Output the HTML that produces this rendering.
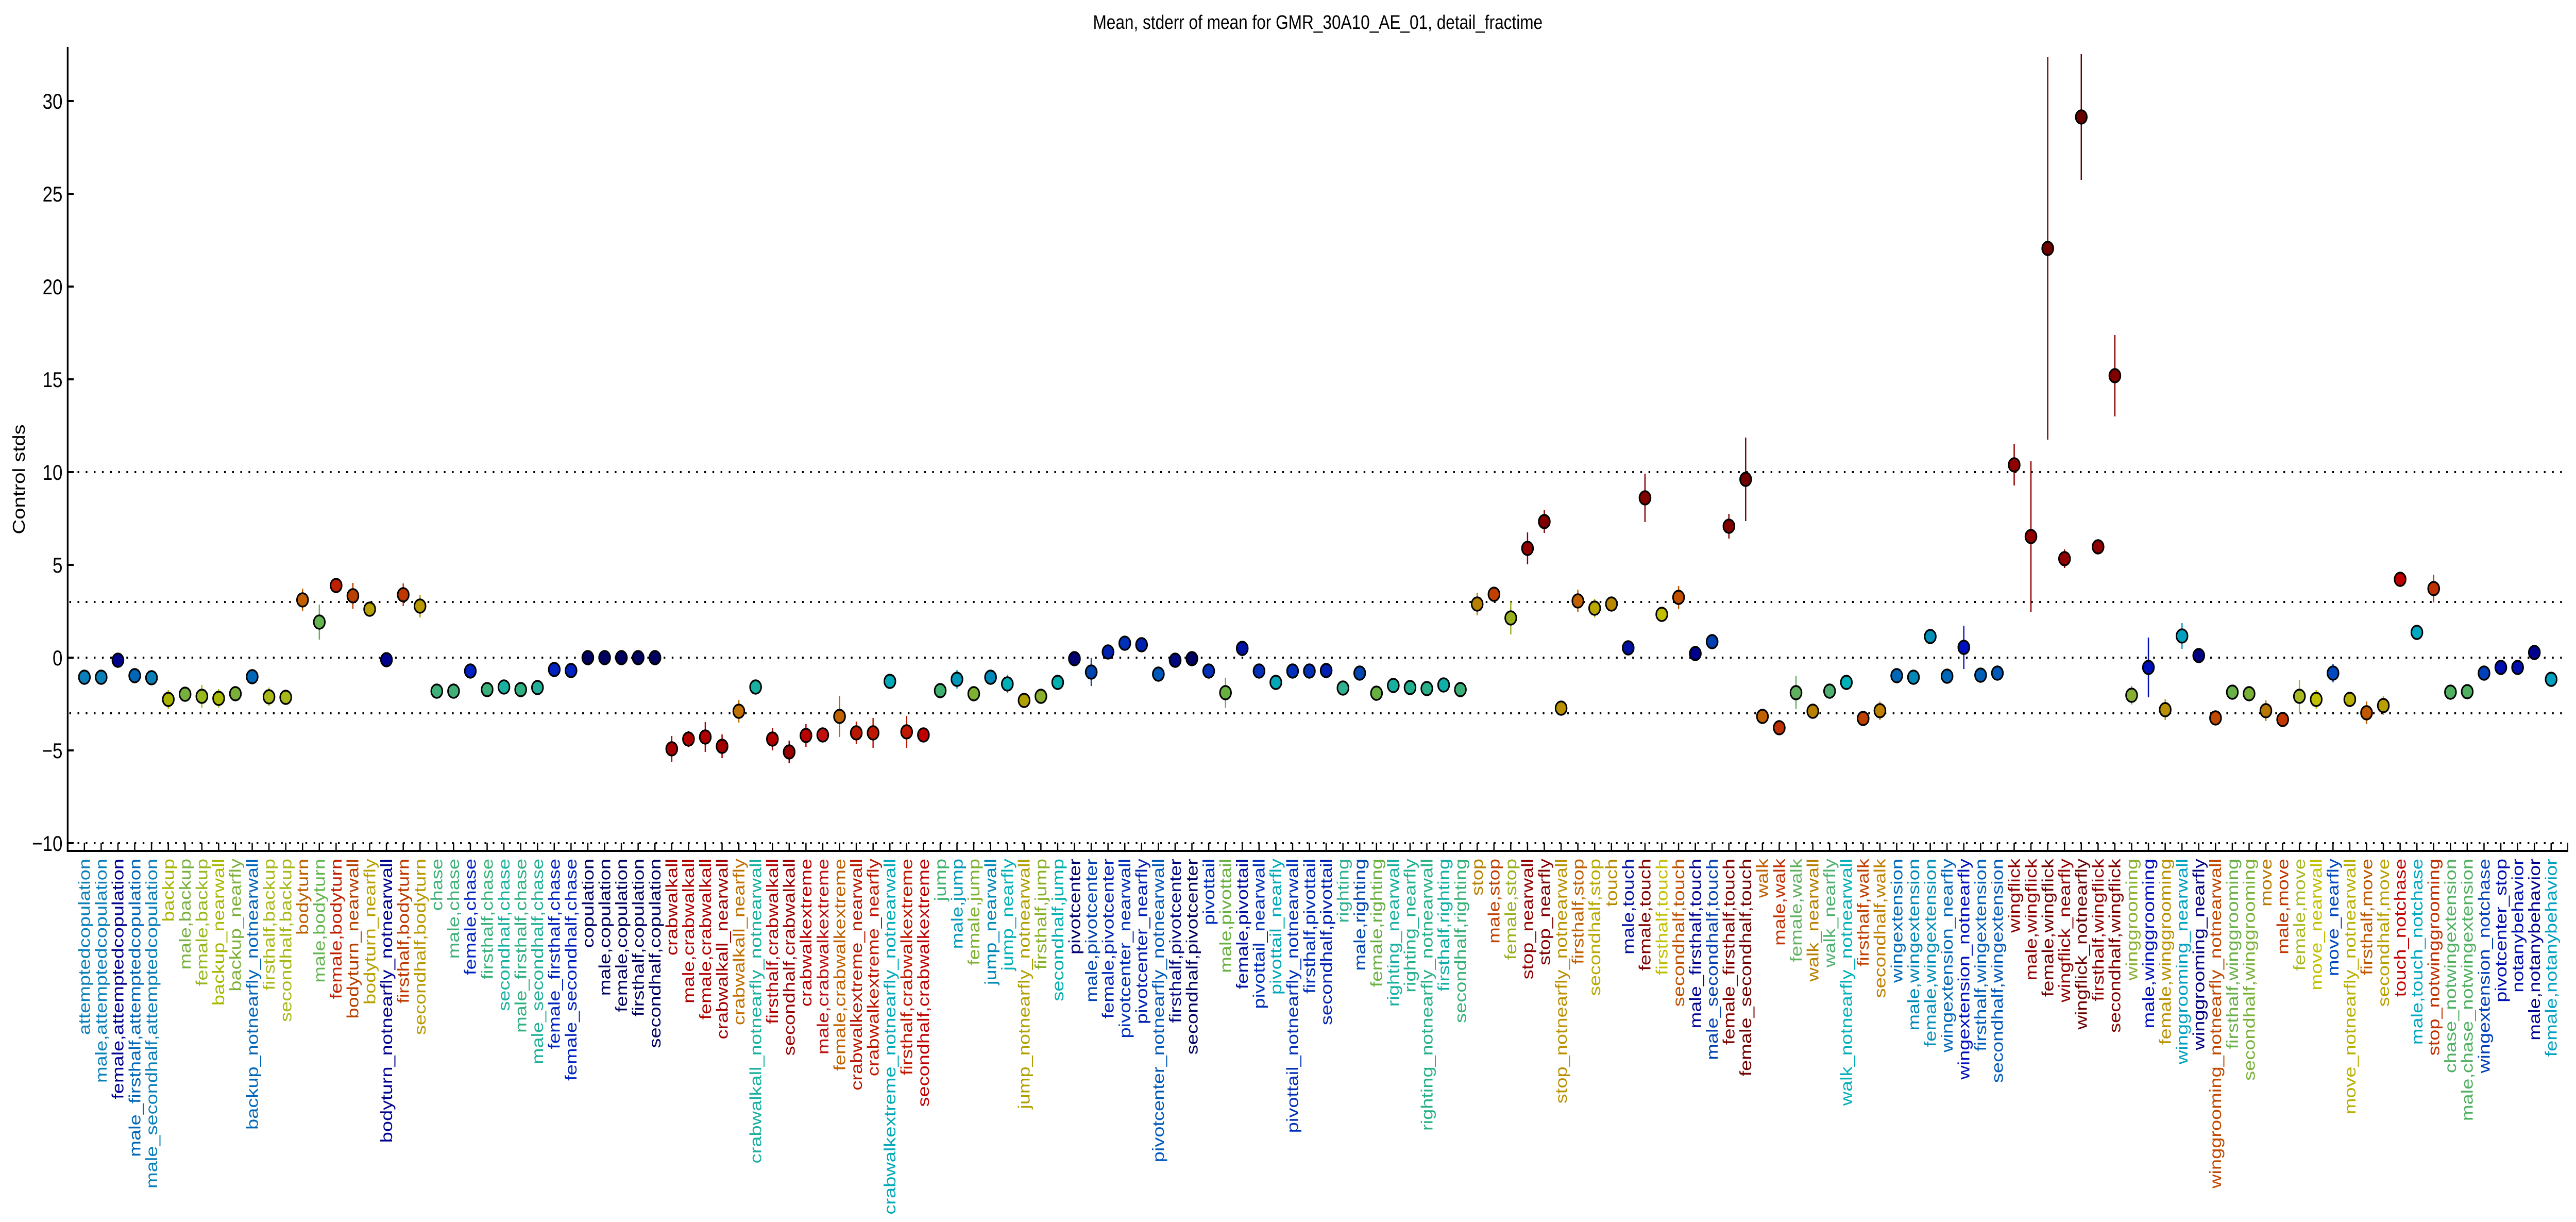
<!DOCTYPE html>
<html><head><meta charset="utf-8"><style>
html,body{margin:0;padding:0;background:#fff;overflow:hidden;width:100%;height:100%}
svg{display:block;width:100vw;height:100vh}
text{font-family:"Liberation Sans",Arial,sans-serif}
.l{font-size:38px;text-anchor:end}
</style></head><body>
<svg viewBox="0 0 6013 2371" preserveAspectRatio="none" xmlns="http://www.w3.org/2000/svg">
<rect width="6013" height="2371" fill="#fff"/>
<text x="3076" y="56" font-size="38" text-anchor="middle">Mean, stderr of mean for GMR_30A10_AE_01, detail_fractime</text>
<text transform="translate(58,930) rotate(-90)" font-size="40" text-anchor="middle">Control stds</text>
<g stroke="#000" stroke-width="4" stroke-dasharray="4 15">
<line x1="162" y1="916" x2="5994" y2="916"/>
<line x1="162" y1="1168" x2="5994" y2="1168"/>
<line x1="162" y1="1276" x2="5994" y2="1276"/>
<line x1="162" y1="1384" x2="5994" y2="1384"/>
<line x1="162" y1="1636" x2="5994" y2="1636"/>
</g>
<line x1="158" y1="91" x2="158" y2="1653" stroke="#000" stroke-width="4"/>
<line x1="156" y1="1651" x2="5995" y2="1651" stroke="#000" stroke-width="4"/>
<line x1="195.5" y1="1643" x2="5995" y2="1643" stroke="#000" stroke-width="16" stroke-dasharray="3 36.17"/>
<g stroke="#000" stroke-width="4">
<line x1="158" y1="196" x2="172" y2="196"/><line x1="158" y1="376" x2="172" y2="376"/><line x1="158" y1="556" x2="172" y2="556"/><line x1="158" y1="736" x2="172" y2="736"/><line x1="158" y1="916" x2="172" y2="916"/><line x1="158" y1="1096" x2="172" y2="1096"/><line x1="158" y1="1276" x2="172" y2="1276"/><line x1="158" y1="1456" x2="172" y2="1456"/><line x1="158" y1="1636" x2="172" y2="1636"/>
</g>
<g font-size="42" text-anchor="end">
<text x="146" y="211">30</text><text x="146" y="391">25</text><text x="146" y="571">20</text><text x="146" y="751">15</text><text x="146" y="931">10</text><text x="146" y="1111">5</text><text x="146" y="1291">0</text><text x="146" y="1471">−5</text><text x="146" y="1651">−10</text>
</g>
<g stroke-width="3">
<line x1="392.9" y1="1339" x2="392.9" y2="1375" stroke="#a8b400"/>
<line x1="471.2" y1="1329" x2="471.2" y2="1373" stroke="#98b820"/>
<line x1="510.4" y1="1337" x2="510.4" y2="1373" stroke="#a8b800"/>
<line x1="549.5" y1="1332" x2="549.5" y2="1360" stroke="#7ab038"/>
<line x1="627.9" y1="1334" x2="627.9" y2="1370" stroke="#a8b818"/>
<line x1="667.0" y1="1339" x2="667.0" y2="1367" stroke="#a8b818"/>
<line x1="706.2" y1="1142" x2="706.2" y2="1186" stroke="#c06000"/>
<line x1="745.4" y1="1173" x2="745.4" y2="1241" stroke="#66b450"/>
<line x1="823.7" y1="1131" x2="823.7" y2="1181" stroke="#b84000"/>
<line x1="941.2" y1="1132" x2="941.2" y2="1176" stroke="#c03800"/>
<line x1="980.4" y1="1154" x2="980.4" y2="1198" stroke="#b89800"/>
<line x1="1568.0" y1="1428" x2="1568.0" y2="1478" stroke="#a80000"/>
<line x1="1607.1" y1="1418" x2="1607.1" y2="1450" stroke="#b00000"/>
<line x1="1646.3" y1="1401" x2="1646.3" y2="1459" stroke="#b00000"/>
<line x1="1685.5" y1="1425" x2="1685.5" y2="1471" stroke="#a00000"/>
<line x1="1724.6" y1="1358" x2="1724.6" y2="1402" stroke="#c07000"/>
<line x1="1803.0" y1="1412" x2="1803.0" y2="1456" stroke="#b00000"/>
<line x1="1842.1" y1="1437" x2="1842.1" y2="1481" stroke="#980000"/>
<line x1="1881.3" y1="1405" x2="1881.3" y2="1449" stroke="#b80000"/>
<line x1="1959.7" y1="1350" x2="1959.7" y2="1430" stroke="#c06000"/>
<line x1="1998.8" y1="1400" x2="1998.8" y2="1444" stroke="#b81800"/>
<line x1="2038.0" y1="1393" x2="2038.0" y2="1451" stroke="#c01800"/>
<line x1="2116.3" y1="1389" x2="2116.3" y2="1451" stroke="#c01800"/>
<line x1="2155.5" y1="1412" x2="2155.5" y2="1440" stroke="#c00000"/>
<line x1="2233.8" y1="1300" x2="2233.8" y2="1336" stroke="#0098b8"/>
<line x1="2312.2" y1="1301" x2="2312.2" y2="1327" stroke="#0088b8"/>
<line x1="2351.4" y1="1309" x2="2351.4" y2="1345" stroke="#00b0b8"/>
<line x1="2547.2" y1="1277" x2="2547.2" y2="1331" stroke="#0044b0"/>
<line x1="2586.4" y1="1254" x2="2586.4" y2="1276" stroke="#0022b0"/>
<line x1="2860.6" y1="1315" x2="2860.6" y2="1373" stroke="#68b040"/>
<line x1="3448.1" y1="1150" x2="3448.1" y2="1194" stroke="#b88000"/>
<line x1="3526.5" y1="1167" x2="3526.5" y2="1231" stroke="#98b020"/>
<line x1="3565.6" y1="1033" x2="3565.6" y2="1095" stroke="#900000"/>
<line x1="3604.8" y1="990" x2="3604.8" y2="1034" stroke="#800000"/>
<line x1="3683.1" y1="1144" x2="3683.1" y2="1188" stroke="#c06000"/>
<line x1="3722.3" y1="1162" x2="3722.3" y2="1198" stroke="#b8a800"/>
<line x1="3839.8" y1="919" x2="3839.8" y2="1013" stroke="#800000"/>
<line x1="3918.2" y1="1137" x2="3918.2" y2="1181" stroke="#c05000"/>
<line x1="4035.7" y1="997" x2="4035.7" y2="1045" stroke="#800000"/>
<line x1="4074.8" y1="849" x2="4074.8" y2="1011" stroke="#700000"/>
<line x1="4114.0" y1="1376" x2="4114.0" y2="1404" stroke="#c06000"/>
<line x1="4192.3" y1="1312" x2="4192.3" y2="1376" stroke="#60b060"/>
<line x1="4231.5" y1="1366" x2="4231.5" y2="1394" stroke="#b88000"/>
<line x1="4349.0" y1="1381" x2="4349.0" y2="1407" stroke="#c04000"/>
<line x1="4388.2" y1="1361" x2="4388.2" y2="1397" stroke="#c08000"/>
<line x1="4584.0" y1="1214" x2="4584.0" y2="1298" stroke="#0010c0"/>
<line x1="4701.6" y1="862" x2="4701.6" y2="942" stroke="#900000"/>
<line x1="4740.7" y1="895" x2="4740.7" y2="1187" stroke="#900000"/>
<line x1="4779.9" y1="111" x2="4779.9" y2="853" stroke="#700000"/>
<line x1="4819.1" y1="1066" x2="4819.1" y2="1102" stroke="#900000"/>
<line x1="4858.2" y1="105" x2="4858.2" y2="349" stroke="#680000"/>
<line x1="4936.6" y1="650" x2="4936.6" y2="808" stroke="#800000"/>
<line x1="4975.7" y1="1331" x2="4975.7" y2="1367" stroke="#88b030"/>
<line x1="5014.9" y1="1237" x2="5014.9" y2="1353" stroke="#0010b8"/>
<line x1="5054.1" y1="1357" x2="5054.1" y2="1397" stroke="#b89000"/>
<line x1="5093.3" y1="1209" x2="5093.3" y2="1259" stroke="#00a0c0"/>
<line x1="5132.4" y1="1258" x2="5132.4" y2="1286" stroke="#000080"/>
<line x1="5210.8" y1="1329" x2="5210.8" y2="1357" stroke="#68b048"/>
<line x1="5249.9" y1="1332" x2="5249.9" y2="1360" stroke="#78b038"/>
<line x1="5289.1" y1="1359" x2="5289.1" y2="1399" stroke="#b87800"/>
<line x1="5367.4" y1="1319" x2="5367.4" y2="1383" stroke="#a8b820"/>
<line x1="5406.6" y1="1339" x2="5406.6" y2="1375" stroke="#c0c000"/>
<line x1="5445.8" y1="1288" x2="5445.8" y2="1324" stroke="#0048c0"/>
<line x1="5524.1" y1="1361" x2="5524.1" y2="1405" stroke="#c05800"/>
<line x1="5563.3" y1="1351" x2="5563.3" y2="1387" stroke="#b8a000"/>
<line x1="5602.5" y1="1111" x2="5602.5" y2="1137" stroke="#c00000"/>
<line x1="5680.8" y1="1115" x2="5680.8" y2="1169" stroke="#c03000"/>
<line x1="5955.0" y1="1304" x2="5955.0" y2="1332" stroke="#00a0c0"/>
</g>
<g stroke="#000" stroke-width="3.5">
<circle cx="197.0" cy="1314" r="13" fill="#0a7fb8"/>
<circle cx="236.2" cy="1314" r="13" fill="#0a7fb8"/>
<circle cx="275.3" cy="1281" r="13" fill="#00008f"/>
<circle cx="314.5" cy="1311" r="13" fill="#0066b8"/>
<circle cx="353.7" cy="1315" r="13" fill="#0a7fb8"/>
<circle cx="392.9" cy="1357" r="13" fill="#a8b400"/>
<circle cx="432.0" cy="1347" r="13" fill="#78b040"/>
<circle cx="471.2" cy="1351" r="13" fill="#98b820"/>
<circle cx="510.4" cy="1355" r="13" fill="#a8b800"/>
<circle cx="549.5" cy="1346" r="13" fill="#7ab038"/>
<circle cx="588.7" cy="1313" r="13" fill="#0066b8"/>
<circle cx="627.9" cy="1352" r="13" fill="#a8b818"/>
<circle cx="667.0" cy="1353" r="13" fill="#a8b818"/>
<circle cx="706.2" cy="1164" r="13" fill="#c06000"/>
<circle cx="745.4" cy="1207" r="13" fill="#66b450"/>
<circle cx="784.6" cy="1136" r="13" fill="#c02000"/>
<circle cx="823.7" cy="1156" r="13" fill="#b84000"/>
<circle cx="862.9" cy="1182" r="13" fill="#b8a000"/>
<circle cx="902.1" cy="1280" r="13" fill="#00008f"/>
<circle cx="941.2" cy="1154" r="13" fill="#c03800"/>
<circle cx="980.4" cy="1176" r="13" fill="#b89800"/>
<circle cx="1019.6" cy="1341" r="13" fill="#40b078"/>
<circle cx="1058.7" cy="1341" r="13" fill="#40b078"/>
<circle cx="1097.9" cy="1302" r="13" fill="#0022c0"/>
<circle cx="1137.1" cy="1338" r="13" fill="#38b07a"/>
<circle cx="1176.3" cy="1333" r="13" fill="#18b0a0"/>
<circle cx="1215.4" cy="1338" r="13" fill="#30b080"/>
<circle cx="1254.6" cy="1334" r="13" fill="#20b098"/>
<circle cx="1293.8" cy="1299" r="13" fill="#0022c0"/>
<circle cx="1332.9" cy="1301" r="13" fill="#0022c0"/>
<circle cx="1372.1" cy="1276" r="13" fill="#000060"/>
<circle cx="1411.3" cy="1276" r="13" fill="#000060"/>
<circle cx="1450.4" cy="1276" r="13" fill="#000060"/>
<circle cx="1489.6" cy="1276" r="13" fill="#000060"/>
<circle cx="1528.8" cy="1276" r="13" fill="#000060"/>
<circle cx="1568.0" cy="1453" r="13" fill="#a80000"/>
<circle cx="1607.1" cy="1434" r="13" fill="#b00000"/>
<circle cx="1646.3" cy="1430" r="13" fill="#b00000"/>
<circle cx="1685.5" cy="1448" r="13" fill="#a00000"/>
<circle cx="1724.6" cy="1380" r="13" fill="#c07000"/>
<circle cx="1763.8" cy="1333" r="13" fill="#18b0a0"/>
<circle cx="1803.0" cy="1434" r="13" fill="#b00000"/>
<circle cx="1842.1" cy="1459" r="13" fill="#980000"/>
<circle cx="1881.3" cy="1427" r="13" fill="#b80000"/>
<circle cx="1920.5" cy="1426" r="13" fill="#c01010"/>
<circle cx="1959.7" cy="1390" r="13" fill="#c06000"/>
<circle cx="1998.8" cy="1422" r="13" fill="#b81800"/>
<circle cx="2038.0" cy="1422" r="13" fill="#c01800"/>
<circle cx="2077.2" cy="1322" r="13" fill="#00a8b8"/>
<circle cx="2116.3" cy="1420" r="13" fill="#c01800"/>
<circle cx="2155.5" cy="1426" r="13" fill="#c00000"/>
<circle cx="2194.7" cy="1340" r="13" fill="#40b070"/>
<circle cx="2233.8" cy="1318" r="13" fill="#0098b8"/>
<circle cx="2273.0" cy="1346" r="13" fill="#80b030"/>
<circle cx="2312.2" cy="1314" r="13" fill="#0088b8"/>
<circle cx="2351.4" cy="1327" r="13" fill="#00b0b8"/>
<circle cx="2390.5" cy="1359" r="13" fill="#b0a000"/>
<circle cx="2429.7" cy="1351" r="13" fill="#88b028"/>
<circle cx="2468.9" cy="1324" r="13" fill="#00b0b0"/>
<circle cx="2508.0" cy="1278" r="13" fill="#000070"/>
<circle cx="2547.2" cy="1304" r="13" fill="#0044b0"/>
<circle cx="2586.4" cy="1265" r="13" fill="#0022b0"/>
<circle cx="2625.5" cy="1248" r="13" fill="#0030b8"/>
<circle cx="2664.7" cy="1251" r="13" fill="#0020b0"/>
<circle cx="2703.9" cy="1308" r="13" fill="#0058b8"/>
<circle cx="2743.1" cy="1281" r="13" fill="#000880"/>
<circle cx="2782.2" cy="1278" r="13" fill="#000060"/>
<circle cx="2821.4" cy="1302" r="13" fill="#0030b8"/>
<circle cx="2860.6" cy="1344" r="13" fill="#68b040"/>
<circle cx="2899.7" cy="1258" r="13" fill="#0010a0"/>
<circle cx="2938.9" cy="1302" r="13" fill="#0030b8"/>
<circle cx="2978.1" cy="1324" r="13" fill="#00a8b8"/>
<circle cx="3017.2" cy="1302" r="13" fill="#0030b8"/>
<circle cx="3056.4" cy="1302" r="13" fill="#0030b8"/>
<circle cx="3095.6" cy="1301" r="13" fill="#0020b0"/>
<circle cx="3134.8" cy="1335" r="13" fill="#30b090"/>
<circle cx="3173.9" cy="1306" r="13" fill="#0048b0"/>
<circle cx="3213.1" cy="1345" r="13" fill="#68b040"/>
<circle cx="3252.3" cy="1330" r="13" fill="#18b0a0"/>
<circle cx="3291.4" cy="1334" r="13" fill="#20b090"/>
<circle cx="3330.6" cy="1336" r="13" fill="#28b088"/>
<circle cx="3369.8" cy="1329" r="13" fill="#10b0a8"/>
<circle cx="3408.9" cy="1338" r="13" fill="#38b078"/>
<circle cx="3448.1" cy="1172" r="13" fill="#b88000"/>
<circle cx="3487.3" cy="1153" r="13" fill="#c04000"/>
<circle cx="3526.5" cy="1199" r="13" fill="#98b020"/>
<circle cx="3565.6" cy="1064" r="13" fill="#900000"/>
<circle cx="3604.8" cy="1012" r="13" fill="#800000"/>
<circle cx="3644.0" cy="1374" r="13" fill="#b89000"/>
<circle cx="3683.1" cy="1166" r="13" fill="#c06000"/>
<circle cx="3722.3" cy="1180" r="13" fill="#b8a800"/>
<circle cx="3761.5" cy="1172" r="13" fill="#b88800"/>
<circle cx="3800.6" cy="1257" r="13" fill="#0010a0"/>
<circle cx="3839.8" cy="966" r="13" fill="#800000"/>
<circle cx="3879.0" cy="1192" r="13" fill="#c0c000"/>
<circle cx="3918.2" cy="1159" r="13" fill="#c05000"/>
<circle cx="3957.3" cy="1268" r="13" fill="#000090"/>
<circle cx="3996.5" cy="1245" r="13" fill="#0040b0"/>
<circle cx="4035.7" cy="1021" r="13" fill="#800000"/>
<circle cx="4074.8" cy="930" r="13" fill="#700000"/>
<circle cx="4114.0" cy="1390" r="13" fill="#c06000"/>
<circle cx="4153.2" cy="1412" r="13" fill="#c03000"/>
<circle cx="4192.3" cy="1344" r="13" fill="#60b060"/>
<circle cx="4231.5" cy="1380" r="13" fill="#b88000"/>
<circle cx="4270.7" cy="1341" r="13" fill="#50b070"/>
<circle cx="4309.9" cy="1324" r="13" fill="#00b0b8"/>
<circle cx="4349.0" cy="1394" r="13" fill="#c04000"/>
<circle cx="4388.2" cy="1379" r="13" fill="#c08000"/>
<circle cx="4427.4" cy="1311" r="13" fill="#0068b8"/>
<circle cx="4466.5" cy="1314" r="13" fill="#0088b8"/>
<circle cx="4505.7" cy="1235" r="13" fill="#0090b8"/>
<circle cx="4544.9" cy="1312" r="13" fill="#0068b8"/>
<circle cx="4584.0" cy="1256" r="13" fill="#0010c0"/>
<circle cx="4623.2" cy="1310" r="13" fill="#0060b8"/>
<circle cx="4662.4" cy="1306" r="13" fill="#0058b8"/>
<circle cx="4701.6" cy="902" r="13" fill="#900000"/>
<circle cx="4740.7" cy="1041" r="13" fill="#900000"/>
<circle cx="4779.9" cy="482" r="13" fill="#700000"/>
<circle cx="4819.1" cy="1084" r="13" fill="#900000"/>
<circle cx="4858.2" cy="227" r="13" fill="#680000"/>
<circle cx="4897.4" cy="1061" r="13" fill="#900000"/>
<circle cx="4936.6" cy="729" r="13" fill="#800000"/>
<circle cx="4975.7" cy="1349" r="13" fill="#88b030"/>
<circle cx="5014.9" cy="1295" r="13" fill="#0010b8"/>
<circle cx="5054.1" cy="1377" r="13" fill="#b89000"/>
<circle cx="5093.3" cy="1234" r="13" fill="#00a0c0"/>
<circle cx="5132.4" cy="1272" r="13" fill="#000080"/>
<circle cx="5171.6" cy="1393" r="13" fill="#c04800"/>
<circle cx="5210.8" cy="1343" r="13" fill="#68b048"/>
<circle cx="5249.9" cy="1346" r="13" fill="#78b038"/>
<circle cx="5289.1" cy="1379" r="13" fill="#b87800"/>
<circle cx="5328.3" cy="1396" r="13" fill="#c03800"/>
<circle cx="5367.4" cy="1351" r="13" fill="#a8b820"/>
<circle cx="5406.6" cy="1357" r="13" fill="#c0c000"/>
<circle cx="5445.8" cy="1306" r="13" fill="#0048c0"/>
<circle cx="5485.0" cy="1357" r="13" fill="#b8b000"/>
<circle cx="5524.1" cy="1383" r="13" fill="#c05800"/>
<circle cx="5563.3" cy="1369" r="13" fill="#b8a000"/>
<circle cx="5602.5" cy="1124" r="13" fill="#c00000"/>
<circle cx="5641.6" cy="1227" r="13" fill="#00a8c0"/>
<circle cx="5680.8" cy="1142" r="13" fill="#c03000"/>
<circle cx="5720.0" cy="1343" r="13" fill="#50b060"/>
<circle cx="5759.1" cy="1342" r="13" fill="#50b060"/>
<circle cx="5798.3" cy="1306" r="13" fill="#0040b8"/>
<circle cx="5837.5" cy="1295" r="13" fill="#0010b0"/>
<circle cx="5876.7" cy="1295" r="13" fill="#0010b0"/>
<circle cx="5915.8" cy="1266" r="13" fill="#000090"/>
<circle cx="5955.0" cy="1318" r="13" fill="#00a0c0"/>
</g>
<g class="l">
<text class="l" transform="translate(210.0,1666) rotate(-90)" fill="#0a7fb8">attemptedcopulation</text>
<text class="l" transform="translate(249.2,1666) rotate(-90)" fill="#0a7fb8">male,attemptedcopulation</text>
<text class="l" transform="translate(288.3,1666) rotate(-90)" fill="#00008f">female,attemptedcopulation</text>
<text class="l" transform="translate(327.5,1666) rotate(-90)" fill="#0066b8">male_firsthalf,attemptedcopulation</text>
<text class="l" transform="translate(366.7,1666) rotate(-90)" fill="#0a7fb8">male_secondhalf,attemptedcopulation</text>
<text class="l" transform="translate(405.9,1666) rotate(-90)" fill="#a8b400">backup</text>
<text class="l" transform="translate(445.0,1666) rotate(-90)" fill="#78b040">male,backup</text>
<text class="l" transform="translate(484.2,1666) rotate(-90)" fill="#98b820">female,backup</text>
<text class="l" transform="translate(523.4,1666) rotate(-90)" fill="#a8b800">backup_nearwall</text>
<text class="l" transform="translate(562.5,1666) rotate(-90)" fill="#7ab038">backup_nearfly</text>
<text class="l" transform="translate(601.7,1666) rotate(-90)" fill="#0066b8">backup_notnearfly_notnearwall</text>
<text class="l" transform="translate(640.9,1666) rotate(-90)" fill="#a8b818">firsthalf,backup</text>
<text class="l" transform="translate(680.0,1666) rotate(-90)" fill="#a8b818">secondhalf,backup</text>
<text class="l" transform="translate(719.2,1666) rotate(-90)" fill="#c06000">bodyturn</text>
<text class="l" transform="translate(758.4,1666) rotate(-90)" fill="#66b450">male,bodyturn</text>
<text class="l" transform="translate(797.6,1666) rotate(-90)" fill="#c02000">female,bodyturn</text>
<text class="l" transform="translate(836.7,1666) rotate(-90)" fill="#b84000">bodyturn_nearwall</text>
<text class="l" transform="translate(875.9,1666) rotate(-90)" fill="#b8a000">bodyturn_nearfly</text>
<text class="l" transform="translate(915.1,1666) rotate(-90)" fill="#00008f">bodyturn_notnearfly_notnearwall</text>
<text class="l" transform="translate(954.2,1666) rotate(-90)" fill="#c03800">firsthalf,bodyturn</text>
<text class="l" transform="translate(993.4,1666) rotate(-90)" fill="#b89800">secondhalf,bodyturn</text>
<text class="l" transform="translate(1032.6,1666) rotate(-90)" fill="#40b078">chase</text>
<text class="l" transform="translate(1071.7,1666) rotate(-90)" fill="#40b078">male,chase</text>
<text class="l" transform="translate(1110.9,1666) rotate(-90)" fill="#0022c0">female,chase</text>
<text class="l" transform="translate(1150.1,1666) rotate(-90)" fill="#38b07a">firsthalf,chase</text>
<text class="l" transform="translate(1189.3,1666) rotate(-90)" fill="#18b0a0">secondhalf,chase</text>
<text class="l" transform="translate(1228.4,1666) rotate(-90)" fill="#30b080">male_firsthalf,chase</text>
<text class="l" transform="translate(1267.6,1666) rotate(-90)" fill="#20b098">male_secondhalf,chase</text>
<text class="l" transform="translate(1306.8,1666) rotate(-90)" fill="#0022c0">female_firsthalf,chase</text>
<text class="l" transform="translate(1345.9,1666) rotate(-90)" fill="#0022c0">female_secondhalf,chase</text>
<text class="l" transform="translate(1385.1,1666) rotate(-90)" fill="#000060">copulation</text>
<text class="l" transform="translate(1424.3,1666) rotate(-90)" fill="#000060">male,copulation</text>
<text class="l" transform="translate(1463.4,1666) rotate(-90)" fill="#000060">female,copulation</text>
<text class="l" transform="translate(1502.6,1666) rotate(-90)" fill="#000060">firsthalf,copulation</text>
<text class="l" transform="translate(1541.8,1666) rotate(-90)" fill="#000060">secondhalf,copulation</text>
<text class="l" transform="translate(1581.0,1666) rotate(-90)" fill="#a80000">crabwalkall</text>
<text class="l" transform="translate(1620.1,1666) rotate(-90)" fill="#b00000">male,crabwalkall</text>
<text class="l" transform="translate(1659.3,1666) rotate(-90)" fill="#b00000">female,crabwalkall</text>
<text class="l" transform="translate(1698.5,1666) rotate(-90)" fill="#a00000">crabwalkall_nearwall</text>
<text class="l" transform="translate(1737.6,1666) rotate(-90)" fill="#c07000">crabwalkall_nearfly</text>
<text class="l" transform="translate(1776.8,1666) rotate(-90)" fill="#18b0a0">crabwalkall_notnearfly_notnearwall</text>
<text class="l" transform="translate(1816.0,1666) rotate(-90)" fill="#b00000">firsthalf,crabwalkall</text>
<text class="l" transform="translate(1855.1,1666) rotate(-90)" fill="#980000">secondhalf,crabwalkall</text>
<text class="l" transform="translate(1894.3,1666) rotate(-90)" fill="#b80000">crabwalkextreme</text>
<text class="l" transform="translate(1933.5,1666) rotate(-90)" fill="#c01010">male,crabwalkextreme</text>
<text class="l" transform="translate(1972.7,1666) rotate(-90)" fill="#c06000">female,crabwalkextreme</text>
<text class="l" transform="translate(2011.8,1666) rotate(-90)" fill="#b81800">crabwalkextreme_nearwall</text>
<text class="l" transform="translate(2051.0,1666) rotate(-90)" fill="#c01800">crabwalkextreme_nearfly</text>
<text class="l" transform="translate(2090.2,1666) rotate(-90)" fill="#00a8b8">crabwalkextreme_notnearfly_notnearwall</text>
<text class="l" transform="translate(2129.3,1666) rotate(-90)" fill="#c01800">firsthalf,crabwalkextreme</text>
<text class="l" transform="translate(2168.5,1666) rotate(-90)" fill="#c00000">secondhalf,crabwalkextreme</text>
<text class="l" transform="translate(2207.7,1666) rotate(-90)" fill="#40b070">jump</text>
<text class="l" transform="translate(2246.8,1666) rotate(-90)" fill="#0098b8">male,jump</text>
<text class="l" transform="translate(2286.0,1666) rotate(-90)" fill="#80b030">female,jump</text>
<text class="l" transform="translate(2325.2,1666) rotate(-90)" fill="#0088b8">jump_nearwall</text>
<text class="l" transform="translate(2364.4,1666) rotate(-90)" fill="#00b0b8">jump_nearfly</text>
<text class="l" transform="translate(2403.5,1666) rotate(-90)" fill="#b0a000">jump_notnearfly_notnearwall</text>
<text class="l" transform="translate(2442.7,1666) rotate(-90)" fill="#88b028">firsthalf,jump</text>
<text class="l" transform="translate(2481.9,1666) rotate(-90)" fill="#00b0b0">secondhalf,jump</text>
<text class="l" transform="translate(2521.0,1666) rotate(-90)" fill="#000070">pivotcenter</text>
<text class="l" transform="translate(2560.2,1666) rotate(-90)" fill="#0044b0">male,pivotcenter</text>
<text class="l" transform="translate(2599.4,1666) rotate(-90)" fill="#0022b0">female,pivotcenter</text>
<text class="l" transform="translate(2638.5,1666) rotate(-90)" fill="#0030b8">pivotcenter_nearwall</text>
<text class="l" transform="translate(2677.7,1666) rotate(-90)" fill="#0020b0">pivotcenter_nearfly</text>
<text class="l" transform="translate(2716.9,1666) rotate(-90)" fill="#0058b8">pivotcenter_notnearfly_notnearwall</text>
<text class="l" transform="translate(2756.1,1666) rotate(-90)" fill="#000880">firsthalf,pivotcenter</text>
<text class="l" transform="translate(2795.2,1666) rotate(-90)" fill="#000060">secondhalf,pivotcenter</text>
<text class="l" transform="translate(2834.4,1666) rotate(-90)" fill="#0030b8">pivottail</text>
<text class="l" transform="translate(2873.6,1666) rotate(-90)" fill="#68b040">male,pivottail</text>
<text class="l" transform="translate(2912.7,1666) rotate(-90)" fill="#0010a0">female,pivottail</text>
<text class="l" transform="translate(2951.9,1666) rotate(-90)" fill="#0030b8">pivottail_nearwall</text>
<text class="l" transform="translate(2991.1,1666) rotate(-90)" fill="#00a8b8">pivottail_nearfly</text>
<text class="l" transform="translate(3030.2,1666) rotate(-90)" fill="#0030b8">pivottail_notnearfly_notnearwall</text>
<text class="l" transform="translate(3069.4,1666) rotate(-90)" fill="#0030b8">firsthalf,pivottail</text>
<text class="l" transform="translate(3108.6,1666) rotate(-90)" fill="#0020b0">secondhalf,pivottail</text>
<text class="l" transform="translate(3147.8,1666) rotate(-90)" fill="#30b090">righting</text>
<text class="l" transform="translate(3186.9,1666) rotate(-90)" fill="#0048b0">male,righting</text>
<text class="l" transform="translate(3226.1,1666) rotate(-90)" fill="#68b040">female,righting</text>
<text class="l" transform="translate(3265.3,1666) rotate(-90)" fill="#18b0a0">righting_nearwall</text>
<text class="l" transform="translate(3304.4,1666) rotate(-90)" fill="#20b090">righting_nearfly</text>
<text class="l" transform="translate(3343.6,1666) rotate(-90)" fill="#28b088">righting_notnearfly_notnearwall</text>
<text class="l" transform="translate(3382.8,1666) rotate(-90)" fill="#10b0a8">firsthalf,righting</text>
<text class="l" transform="translate(3421.9,1666) rotate(-90)" fill="#38b078">secondhalf,righting</text>
<text class="l" transform="translate(3461.1,1666) rotate(-90)" fill="#b88000">stop</text>
<text class="l" transform="translate(3500.3,1666) rotate(-90)" fill="#c04000">male,stop</text>
<text class="l" transform="translate(3539.5,1666) rotate(-90)" fill="#98b020">female,stop</text>
<text class="l" transform="translate(3578.6,1666) rotate(-90)" fill="#900000">stop_nearwall</text>
<text class="l" transform="translate(3617.8,1666) rotate(-90)" fill="#800000">stop_nearfly</text>
<text class="l" transform="translate(3657.0,1666) rotate(-90)" fill="#b89000">stop_notnearfly_notnearwall</text>
<text class="l" transform="translate(3696.1,1666) rotate(-90)" fill="#c06000">firsthalf,stop</text>
<text class="l" transform="translate(3735.3,1666) rotate(-90)" fill="#b8a800">secondhalf,stop</text>
<text class="l" transform="translate(3774.5,1666) rotate(-90)" fill="#b88800">touch</text>
<text class="l" transform="translate(3813.6,1666) rotate(-90)" fill="#0010a0">male,touch</text>
<text class="l" transform="translate(3852.8,1666) rotate(-90)" fill="#800000">female,touch</text>
<text class="l" transform="translate(3892.0,1666) rotate(-90)" fill="#c0c000">firsthalf,touch</text>
<text class="l" transform="translate(3931.2,1666) rotate(-90)" fill="#c05000">secondhalf,touch</text>
<text class="l" transform="translate(3970.3,1666) rotate(-90)" fill="#000090">male_firsthalf,touch</text>
<text class="l" transform="translate(4009.5,1666) rotate(-90)" fill="#0040b0">male_secondhalf,touch</text>
<text class="l" transform="translate(4048.7,1666) rotate(-90)" fill="#800000">female_firsthalf,touch</text>
<text class="l" transform="translate(4087.8,1666) rotate(-90)" fill="#700000">female_secondhalf,touch</text>
<text class="l" transform="translate(4127.0,1666) rotate(-90)" fill="#c06000">walk</text>
<text class="l" transform="translate(4166.2,1666) rotate(-90)" fill="#c03000">male,walk</text>
<text class="l" transform="translate(4205.3,1666) rotate(-90)" fill="#60b060">female,walk</text>
<text class="l" transform="translate(4244.5,1666) rotate(-90)" fill="#b88000">walk_nearwall</text>
<text class="l" transform="translate(4283.7,1666) rotate(-90)" fill="#50b070">walk_nearfly</text>
<text class="l" transform="translate(4322.9,1666) rotate(-90)" fill="#00b0b8">walk_notnearfly_notnearwall</text>
<text class="l" transform="translate(4362.0,1666) rotate(-90)" fill="#c04000">firsthalf,walk</text>
<text class="l" transform="translate(4401.2,1666) rotate(-90)" fill="#c08000">secondhalf,walk</text>
<text class="l" transform="translate(4440.4,1666) rotate(-90)" fill="#0068b8">wingextension</text>
<text class="l" transform="translate(4479.5,1666) rotate(-90)" fill="#0088b8">male,wingextension</text>
<text class="l" transform="translate(4518.7,1666) rotate(-90)" fill="#0090b8">female,wingextension</text>
<text class="l" transform="translate(4557.9,1666) rotate(-90)" fill="#0068b8">wingextension_nearfly</text>
<text class="l" transform="translate(4597.0,1666) rotate(-90)" fill="#0010c0">wingextension_notnearfly</text>
<text class="l" transform="translate(4636.2,1666) rotate(-90)" fill="#0060b8">firsthalf,wingextension</text>
<text class="l" transform="translate(4675.4,1666) rotate(-90)" fill="#0058b8">secondhalf,wingextension</text>
<text class="l" transform="translate(4714.6,1666) rotate(-90)" fill="#900000">wingflick</text>
<text class="l" transform="translate(4753.7,1666) rotate(-90)" fill="#900000">male,wingflick</text>
<text class="l" transform="translate(4792.9,1666) rotate(-90)" fill="#700000">female,wingflick</text>
<text class="l" transform="translate(4832.1,1666) rotate(-90)" fill="#900000">wingflick_nearfly</text>
<text class="l" transform="translate(4871.2,1666) rotate(-90)" fill="#680000">wingflick_notnearfly</text>
<text class="l" transform="translate(4910.4,1666) rotate(-90)" fill="#900000">firsthalf,wingflick</text>
<text class="l" transform="translate(4949.6,1666) rotate(-90)" fill="#800000">secondhalf,wingflick</text>
<text class="l" transform="translate(4988.7,1666) rotate(-90)" fill="#88b030">winggrooming</text>
<text class="l" transform="translate(5027.9,1666) rotate(-90)" fill="#0010b8">male,winggrooming</text>
<text class="l" transform="translate(5067.1,1666) rotate(-90)" fill="#b89000">female,winggrooming</text>
<text class="l" transform="translate(5106.3,1666) rotate(-90)" fill="#00a0c0">winggrooming_nearwall</text>
<text class="l" transform="translate(5145.4,1666) rotate(-90)" fill="#000080">winggrooming_nearfly</text>
<text class="l" transform="translate(5184.6,1666) rotate(-90)" fill="#c04800">winggrooming_notnearfly_notnearwall</text>
<text class="l" transform="translate(5223.8,1666) rotate(-90)" fill="#68b048">firsthalf,winggrooming</text>
<text class="l" transform="translate(5262.9,1666) rotate(-90)" fill="#78b038">secondhalf,winggrooming</text>
<text class="l" transform="translate(5302.1,1666) rotate(-90)" fill="#b87800">move</text>
<text class="l" transform="translate(5341.3,1666) rotate(-90)" fill="#c03800">male,move</text>
<text class="l" transform="translate(5380.4,1666) rotate(-90)" fill="#a8b820">female,move</text>
<text class="l" transform="translate(5419.6,1666) rotate(-90)" fill="#c0c000">move_nearwall</text>
<text class="l" transform="translate(5458.8,1666) rotate(-90)" fill="#0048c0">move_nearfly</text>
<text class="l" transform="translate(5498.0,1666) rotate(-90)" fill="#b8b000">move_notnearfly_notnearwall</text>
<text class="l" transform="translate(5537.1,1666) rotate(-90)" fill="#c05800">firsthalf,move</text>
<text class="l" transform="translate(5576.3,1666) rotate(-90)" fill="#b8a000">secondhalf,move</text>
<text class="l" transform="translate(5615.5,1666) rotate(-90)" fill="#c00000">touch_notchase</text>
<text class="l" transform="translate(5654.6,1666) rotate(-90)" fill="#00a8c0">male,touch_notchase</text>
<text class="l" transform="translate(5693.8,1666) rotate(-90)" fill="#c03000">stop_notwinggrooming</text>
<text class="l" transform="translate(5733.0,1666) rotate(-90)" fill="#50b060">chase_notwingextension</text>
<text class="l" transform="translate(5772.1,1666) rotate(-90)" fill="#50b060">male,chase_notwingextension</text>
<text class="l" transform="translate(5811.3,1666) rotate(-90)" fill="#0040b8">wingextension_notchase</text>
<text class="l" transform="translate(5850.5,1666) rotate(-90)" fill="#0010b0">pivotcenter_stop</text>
<text class="l" transform="translate(5889.7,1666) rotate(-90)" fill="#0010b0">notanybehavior</text>
<text class="l" transform="translate(5928.8,1666) rotate(-90)" fill="#000090">male,notanybehavior</text>
<text class="l" transform="translate(5968.0,1666) rotate(-90)" fill="#00a0c0">female,notanybehavior</text>
</g>
</svg>
</body></html>
